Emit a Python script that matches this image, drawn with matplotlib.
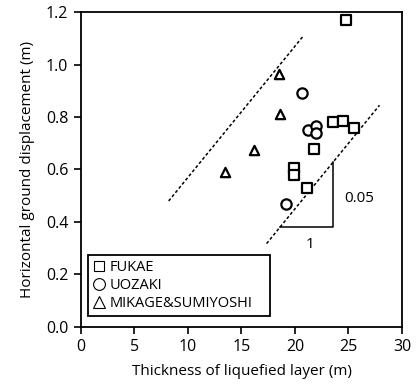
import numpy as np
import matplotlib.pyplot as plt
from matplotlib.lines import Line2D

plt.rcParams['font.family'] = ['Open Sans', 'DejaVu Sans']

# Fukae
fukae_x = [24.8, 23.6, 24.5, 25.5, 21.8, 19.9, 19.9, 21.1]
fukae_y = [1.17, 0.78, 0.785, 0.76, 0.68, 0.605, 0.58, 0.53]
# Uozaki
uozaki_x = [20.7, 21.2, 22.0, 22.0, 19.2]
uozaki_y = [0.89, 0.75, 0.765, 0.74, 0.47]
# Mikage & Sumiyoshi
mikage_x = [18.5, 18.6, 16.2, 13.5]
mikage_y = [0.965, 0.81, 0.675, 0.59]

# bounding lines, slope 0.05
slope = 0.05
upper_b, upper_x = 0.07, [8.2, 20.7]
lower_b, lower_x = -0.55, [17.35, 27.9]
tri_x = [18.6, 23.6]

fig = plt.figure(figsize=(4.17, 3.91), dpi=100)
ax = fig.add_axes([0.194, 0.164, 0.770, 0.805])

mk = dict(facecolor='white', edgecolor='black', linewidths=1.6, zorder=3)
ax.scatter(fukae_x, fukae_y, marker='s', s=45, **mk)
ax.scatter(uozaki_x, uozaki_y, marker='o', s=55, **mk)
ax.scatter(mikage_x, mikage_y, marker='^', s=45, **mk)

for xs, b in [(upper_x, upper_b), (lower_x, lower_b)]:
    xs = np.array(xs)
    ax.plot(xs, slope * xs + b, color='black', ls=(0, (2, 1.5)), lw=1.1)

# slope triangle
y0 = slope * tri_x[0] + lower_b
y1 = slope * tri_x[1] + lower_b
ax.plot([tri_x[0], tri_x[1], tri_x[1]], [y0, y0, y1], color='black', lw=1.1)
ax.text(21.4, 0.315, '1', ha='center', va='center', fontsize=11)
ax.text(24.6, 0.49, '0.05', ha='left', va='center', fontsize=11)

ax.set_xlim(0, 30)
ax.set_ylim(0, 1.2)
ax.set_xticks(np.arange(0, 31, 5))
ax.set_yticks(np.arange(0, 1.21, 0.2))
ax.set_yticklabels([f'{v:.1f}' for v in np.arange(0, 1.21, 0.2)])
ax.tick_params(direction='out', length=5, width=1.2, labelsize=11.5, pad=4)
for s in ax.spines.values():
    s.set_linewidth(1.3)

ax.set_xlabel('Thickness of liquefied layer (m)', fontsize=11, labelpad=6)
ax.set_ylabel('Horizontal ground displacement (m)', fontsize=11, labelpad=8)

handles = [
    Line2D([], [], marker='s', ls='none', mfc='white', mec='black', mew=0.8, ms=7.5),
    Line2D([], [], marker='o', ls='none', mfc='white', mec='black', mew=0.8, ms=8.5),
    Line2D([], [], marker='^', ls='none', mfc='white', mec='black', mew=0.8, ms=8.5),
]
leg = ax.legend(handles, ['FUKAE', 'UOZAKI', 'MIKAGE&SUMIYOSHI'],
                loc='lower left', bbox_to_anchor=(0.023, 0.035, 0.566, 0.223),
                mode='expand', fancybox=False, framealpha=1, edgecolor='black',
                fontsize=10.5, handlelength=0.8, handletextpad=0.3,
                labelspacing=0.2, borderpad=0.35, borderaxespad=0)
leg.get_frame().set_linewidth(1.3)

fig.savefig('out.png', dpi=100)
